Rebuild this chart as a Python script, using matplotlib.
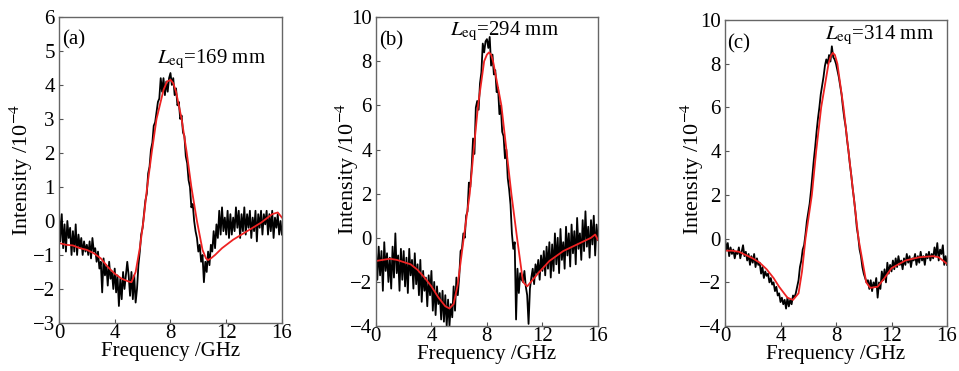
import numpy as np
import matplotlib
matplotlib.use("Agg")
import matplotlib.pyplot as plt

plt.rcParams['font.family'] = 'Liberation Serif'
plt.rcParams['mathtext.fontset'] = 'stix'

# measured spectra, sampled every 0.1 GHz from 0 to 16 GHz
freq = np.round(np.arange(0, 16.05, 0.1), 1)

meas_a = [
    0.3, -0.6, 0.2, -0.8, -0.1, -0.9, 0.0, -0.5, -0.2, -1.0,
    -0.3, -0.9, -0.1, -1.0, -0.4, -0.8, -0.5, -1.0, -0.6, -0.9,
    -0.7, -1.0, -0.6, -1.1, -0.5, -0.9, -0.8, -1.2, -0.9, -1.4,
    -1.2, -2.1, -1.1, -1.6, -1.3, -1.9, -1.2, -1.7, -1.5, -2.0,
    -1.4, -2.1, -1.6, -2.5, -1.7, -2.3, -1.5, -2.0, -1.6, -1.2,
    -1.6, -2.2, -1.5, -2.3, -1.6, -2.4, -2.0, -1.3, -0.9, -0.4,
    -0.2, 0.2, 0.6, 0.8, 1.4, 1.6, 2.1, 2.3, 2.8, 2.9,
    3.2, 3.5, 3.6, 4.2, 3.8, 4.2, 3.7, 4.1, 3.8, 4.2,
    4.35, 4.0, 4.2, 3.7, 3.9, 3.4, 3.5, 3.0, 3.1, 2.6,
    2.5, 1.9, 1.7, 1.2, 1.0, 0.4, 0.5, 0.0, -0.3, -0.5,
    -0.9, -0.7, -1.2, -1.0, -1.8, -1.2, -1.5, -0.9, -1.3, -0.7,
    -0.9, -0.3, -0.8, -0.1, -0.5, 0.3, -0.4, 0.4, -0.3, 0.1,
    -0.4, 0.3, -0.5, 0.2, -0.4, 0.1, -0.3, 0.4, -0.2, 0.3,
    -0.5, 0.2, -0.3, 0.4, -0.4, 0.2, -0.2, 0.3, -0.5, 0.1,
    -0.3, 0.3, -0.6, 0.2, -0.2, 0.3, -0.4, 0.2, -0.1, 0.3,
    -0.4, 0.2, -0.3, 0.3, -0.5, 0.1, -0.2, 0.2, -0.4, 0.0,
    -0.4,
]

meas_b = [
    -0.5, -1.9, -0.4, -1.7, -0.6, -2.4, -0.2, -1.5, -0.7, -2.0,
    -0.9, -2.3, -0.4, -1.8, 0.2, -1.6, -0.8, -2.4, -0.5, -1.9,
    -0.6, -2.2, -0.9, -2.5, -0.5, -1.7, -1.0, -2.3, -0.7, -2.1,
    -1.2, -2.6, -1.0, -2.9, -1.5, -2.4, -1.8, -3.1, -1.7, -2.6,
    -1.5, -3.3, -2.0, -3.5, -2.2, -3.0, -2.5, -3.7, -2.4, -3.8,
    -2.6, -4.0, -2.8, -4.0, -3.0, -3.6, -2.2, -3.3, -1.8, -2.6,
    -1.8, -0.6, -0.5, 0.2, 0.0, 1.0, 1.2, 2.5, 2.3, 3.2,
    4.5, 3.8, 5.9, 6.2, 5.8, 7.0, 7.5, 8.8, 8.4, 8.9,
    9.0, 8.6, 9.1, 7.8, 8.3, 7.4, 7.6, 6.6, 6.8, 5.6,
    6.0, 4.8, 4.6, 3.6, 4.0, 2.7, 2.2, 1.5, 0.2, -0.5,
    -0.2, -3.7, -1.4, -2.5, -1.6, -1.9, -2.0, -1.5, -2.2, -2.6,
    -3.9, -2.3, -1.8, -1.4, -2.1, -1.2, -1.6, -1.0, -1.9, -0.8,
    -1.5, -0.6, -1.7, -0.4, -1.4, -0.2, -1.8, -0.3, -1.5, 0.2,
    -1.2, 0.0, -1.6, 0.4, -1.0, -0.2, -1.4, 0.5, -0.8, 0.2,
    -1.3, 0.6, -0.7, 0.3, -1.2, 0.9, -0.5, 0.2, -1.0, 0.8,
    -0.6, 1.2, -0.4, 0.5, -0.9, 0.8, -0.3, 1.0, -0.8, 0.6,
    -0.1,
]

meas_c = [
    0.0, -0.5, -0.2, -0.8, -0.4, -0.7, -0.5, -0.9, -0.6, -0.7,
    -0.4, -0.9, -0.6, -0.3, -0.8, -0.6, -1.0, -0.7, -1.2, -0.8,
    -1.1, -0.7, -1.3, -0.9, -1.2, -1.1, -1.6, -1.3, -1.8, -1.5,
    -1.7, -1.6, -2.0, -1.8, -2.1, -2.0, -2.4, -2.2, -2.6, -2.5,
    -2.9, -2.7, -3.0, -2.8, -3.2, -2.7, -3.1, -2.8, -3.0, -2.6,
    -2.7, -2.5, -2.2, -1.9, -1.3, -1.0, -0.5, -0.3, 0.2, 0.8,
    1.2, 1.6, 2.2, 2.9, 3.6, 4.2, 4.9, 5.5, 6.0, 6.6,
    7.0, 7.4, 7.9, 8.2, 8.0, 8.4, 8.1, 8.8, 8.3, 8.2,
    8.0, 7.7, 7.4, 7.0, 6.6, 6.0, 5.5, 5.1, 4.5, 4.0,
    3.4, 2.9, 2.3, 1.8, 1.2, 0.5, 0.1, -0.5, -0.8, -1.3,
    -1.6, -1.8, -2.0, -1.9, -2.3, -1.9, -2.4, -2.0, -2.2, -1.8,
    -2.7, -2.0, -2.3, -1.5, -1.9, -1.4, -2.0, -1.1, -1.6, -1.2,
    -1.5, -1.0, -1.4, -0.9, -1.3, -0.8, -1.2, -1.0, -1.4, -0.9,
    -1.2, -0.7, -1.1, -0.8, -1.3, -0.9, -1.0, -0.7, -1.2, -0.8,
    -1.1, -0.6, -1.0, -0.8, -1.2, -0.7, -0.9, -0.6, -1.0, -0.7,
    -0.9, -0.4, -0.8, -0.2, -1.0, -0.5, -0.7, -0.3, -1.2, -0.8,
    -1.2,
]

# fitted curves (red)
fit_x_a = [0, 0.5, 1, 1.5, 2, 2.5, 3, 3.5, 4, 4.5, 5, 5.2, 5.5, 5.8, 6.06, 6.3,
           6.65, 7.0, 7.5, 7.75, 8.0, 8.2, 8.4, 8.8, 9.17, 9.5, 9.9, 10.3,
           10.55, 10.7, 10.9, 11.2, 11.7, 12.5, 13.5, 14.5, 15.3, 15.7, 16]
fit_y_a = [-0.65, -0.7, -0.72, -0.8, -0.85, -0.95, -1.1, -1.35, -1.55, -1.7,
           -1.78, -1.8, -1.5, -0.8, 0.0, 0.9, 2.0, 3.0, 3.85, 4.1, 4.15, 4.05,
           3.8, 3.0, 2.0, 1.0, 0.0, -0.85, -1.1, -1.15, -1.1, -1.0, -0.8,
           -0.55, -0.3, -0.05, 0.2, 0.25, 0.1]

fit_x_b = [0, 0.5, 1, 1.5, 2, 2.5, 3, 3.5, 4, 4.5, 5, 5.3, 5.6, 5.9, 6.33, 6.76,
           7.05, 7.36, 7.8, 8.0, 8.15, 8.3, 8.44, 9.04, 9.4, 9.76, 10.17, 10.6,
           10.9, 11.3, 11.7, 12.5, 13.5, 14.5, 15.5, 15.8, 16]
fit_y_b = [-1.05, -1.0, -0.95, -1.0, -1.1, -1.2, -1.45, -1.8, -2.2, -2.7, -3.1,
           -3.2, -3.0, -2.1, 0.0, 2.0, 4.0, 6.0, 8.0, 8.3, 8.4, 8.3, 8.0, 6.0,
           4.0, 2.0, 0.0, -2.0, -2.2, -1.9, -1.6, -1.05, -0.6, -0.3, 0.0,
           0.15, -0.1]

fit_x_c = [0, 0.5, 1, 1.5, 2, 2.5, 3, 3.5, 3.9, 4.5, 4.9, 5.3, 5.55, 5.8, 6.26,
           6.57, 6.93, 7.46, 7.62, 7.77, 7.92, 8.1, 8.54, 8.9, 9.26, 9.62,
           10.18, 10.47, 11.0, 11.5, 12.0, 13.0, 14.0, 15.0, 15.4, 16]
fit_y_c = [-0.55, -0.55, -0.6, -0.75, -0.9, -1.1, -1.4, -1.8, -2.2, -2.7, -2.8,
           -2.5, -1.5, 0.0, 2.0, 4.0, 6.0, 8.0, 8.35, 8.5, 8.4, 8.0, 6.0, 4.0,
           2.0, 0.0, -2.0, -2.25, -2.2, -1.8, -1.35, -1.0, -0.85, -0.8, -0.85,
           -1.15]

panel_tags = ['(a)', '(b)', '(c)']
leq_mm = [169, 294, 314]
ylims = [(-3, 6), (-4, 10), (-4, 10)]
yticks = [list(range(-3, 7)), list(range(-4, 11, 2)), list(range(-4, 11, 2))]
xticks = [0, 4, 8, 12, 16]

fig = plt.figure(figsize=(9.59, 3.71), dpi=100)
boxes = [[0.0615, 0.1294, 0.2325, 0.825],
         [0.392, 0.121, 0.2315, 0.833],
         [0.756, 0.121, 0.2315, 0.825]]
tag_pos = [(0.015, 0.955), (0.015, 0.955), (0.01, 0.955)]
leq_pos = [(0.44, 0.85), (0.333, 0.94), (0.45, 0.938)]
ylabel_pos = [(-0.107, 0.5), (-0.067, 0.51), (-0.086, 0.515)]

meas = [meas_a, meas_b, meas_c]
fits = [(fit_x_a, fit_y_a), (fit_x_b, fit_y_b), (fit_x_c, fit_y_c)]

for i in range(3):
    ax = fig.add_axes(boxes[i])
    ax.plot(freq, meas[i], color='black', linewidth=1.3)
    ax.plot(fits[i][0], fits[i][1], color='#ee2222', linewidth=1.3)
    ax.set_xlim(0, 16)
    ax.set_ylim(*ylims[i])
    ax.set_xticks(xticks)
    ax.set_yticks(yticks[i])
    ax.tick_params(direction='in', length=3, labelsize=15, color='#555555')
    ax.tick_params(axis='x', pad=1)
    ax.tick_params(axis='y', pad=3)
    for sp in ax.spines.values():
        sp.set_color('#666666')
        sp.set_linewidth(1.0)
    ax.set_xlabel('Frequency /GHz', fontsize=15, labelpad=-1)
    ax.set_ylabel('Intensity /10$^{-4}$', fontsize=16)
    ax.yaxis.set_label_coords(*ylabel_pos[i])
    ax.text(tag_pos[i][0], tag_pos[i][1], panel_tags[i], transform=ax.transAxes,
            fontsize=15, va='top', ha='left')
    ax.text(leq_pos[i][0], leq_pos[i][1],
            r'$L_{\mathrm{eq}}$=%d mm' % leq_mm[i], transform=ax.transAxes,
            fontsize=15, va='baseline', ha='left')

fig.savefig('out.png', dpi=100)
